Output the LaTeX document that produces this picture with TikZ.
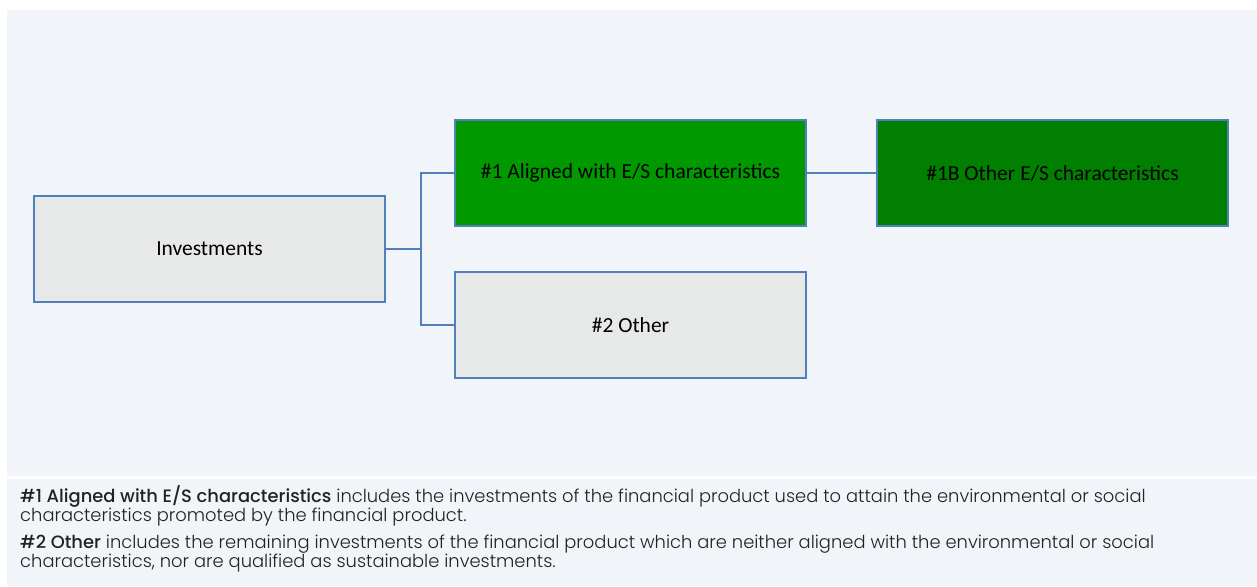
\documentclass[tikz,border=0pt]{standalone}
\usepackage{fontspec}
\setmainfont{Carlito}
\newfontfamily\notefont{Poppins Light}[BoldFont={Poppins Medium}]
\usepackage{xcolor}
\usetikzlibrary{positioning}

\definecolor{panelbg}{HTML}{F1F4F9}
\definecolor{boxgray}{HTML}{E7E9E9}
\definecolor{boxgreen}{HTML}{009900}
\definecolor{boxdark}{HTML}{007F00}
\definecolor{edgeblue}{HTML}{5080BA}
\definecolor{notetext}{HTML}{222222}

\begin{document}
\begin{tikzpicture}[x=1pt, y=1pt, every node/.style={font=\fontsize{21.5}{24}\selectfont, align=center}]
  \def\bw{351pt}
  \def\bh{106pt}

  \tikzset{
    catbox/.style={draw=edgeblue, line width=2pt, minimum width=\bw, minimum height=\bh, inner sep=0pt},
    link/.style={draw=edgeblue, line width=2pt}
  }

  \useasboundingbox (0,0) rectangle (1257,-586);
  \fill[panelbg] (7,-10) rectangle (1257,-475.5);
  \fill[panelbg] (7,-479) rectangle (1257,-586);

  \node[catbox, fill=boxgray] (invest) at (209.5,-248.5) {Investments};
  \node[catbox, fill=boxgreen] (aligned) at (630.5,-173) {\#1 Aligned with E/S characteristics};
  \node[catbox, fill=boxgray, below=44pt of aligned] (other) {\#2 Other};
  \node[catbox, fill=boxdark, right=69pt of aligned] (otheres) {\#1B Other E/S characteristics};

  \draw[link] (invest.east) -- ++(35,0) |- (aligned.west);
  \draw[link] (invest.east) -- ++(35,0) |- (other.west);
  \draw[link] (aligned) -- (otheres);

  % explanatory notes
  \node[anchor=north west, align=left, inner sep=0pt, text=notetext,
        font=\notefont\fontsize{17.9}{19.6}\selectfont] (notes) at (20,-485)
    {\textbf{\#1 Aligned with E/S characteristics} includes the investments of the financial product used to attain the environmental or social\\
     characteristics promoted by the financial product.\\[7pt]
     \textbf{\#2 Other} includes the remaining investments of the financial product which are neither aligned with the environmental or social\\
     characteristics, nor are qualified as sustainable investments.};
\end{tikzpicture}
\end{document}
